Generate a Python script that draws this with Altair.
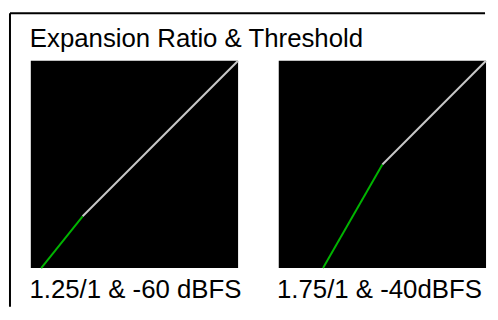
import altair as alt
import pandas as pd

# ---- data ----
chart_title = "Expansion Ratio & Threshold"
panel_labels = ["1.25/1 & -60 dBFS", "1.75/1 & -40dBFS"]
# transfer curve points (input dBFS -> output dBFS): start, knee (threshold), full scale
inputs_1 = [-76.0, -60.0, 0.0]
outputs_1 = [-80.0, -60.0, 0.0]
inputs_2 = [-62.9, -40.0, 0.0]
outputs_2 = [-80.0, -40.0, 0.0]
axis_domain = [-80, 0]

GREEN = "#00b400"
GRAY = "#c8c8c8"
FONT = "Liberation Sans"
FS = 26


def curve_rows(xs, ys):
    rows = []
    for seg, idx in (("below", (0, 1)), ("above", (1, 2))):
        for i in idx:
            rows.append({"input": xs[i], "output": ys[i], "segment": seg})
    return pd.DataFrame(rows)


def panel(xs, ys, label, label_x, extra_layers=()):
    base = alt.Chart(curve_rows(xs, ys)).mark_line(strokeWidth=2).encode(
        x=alt.X("input:Q", scale=alt.Scale(domain=axis_domain, nice=False, zero=False), axis=None),
        y=alt.Y("output:Q", scale=alt.Scale(domain=axis_domain, nice=False, zero=False), axis=None),
        color=alt.Color("segment:N",
                        scale=alt.Scale(domain=["below", "above"], range=[GREEN, GRAY]),
                        legend=None),
    )
    lab = alt.Chart(alt.Data(values=[{"t": label}])).mark_text(
        align="center", baseline="alphabetic", fontSize=FS, font=FONT, color="black"
    ).encode(x=alt.value(label_x), y=alt.value(239), text="t:N")
    return alt.layer(base, lab, *extra_layers).properties(width=209, height=209)


frame_top = alt.Chart(alt.Data(values=[{}])).mark_rule(color="black", strokeWidth=2).encode(
    x=alt.value(-21), x2=alt.value(458), y=alt.value(-48)
)
frame_left = alt.Chart(alt.Data(values=[{}])).mark_rule(color="black", strokeWidth=2).encode(
    x=alt.value(-21), y=alt.value(-48), y2=alt.value(248)
)
title_txt = alt.Chart(alt.Data(values=[{"t": chart_title}])).mark_text(
    align="left", baseline="alphabetic", fontSize=FS, font=FONT, color="black"
).encode(x=alt.value(-1), y=alt.value(-14.3), text="t:N")

p1 = panel(inputs_1, outputs_1, panel_labels[0], 105.5, (frame_top, frame_left, title_txt))
p2 = panel(inputs_2, outputs_2, panel_labels[1], 101.5)

chart = alt.hconcat(p1, p2, spacing=41, bounds="flush").properties(
    padding={"left": 1, "top": 3, "right": 0, "bottom": 0},
    background="white",
).configure_view(fill="black", stroke=None)

chart.save("out.html", embed_options={"renderer": "svg", "actions": False})
